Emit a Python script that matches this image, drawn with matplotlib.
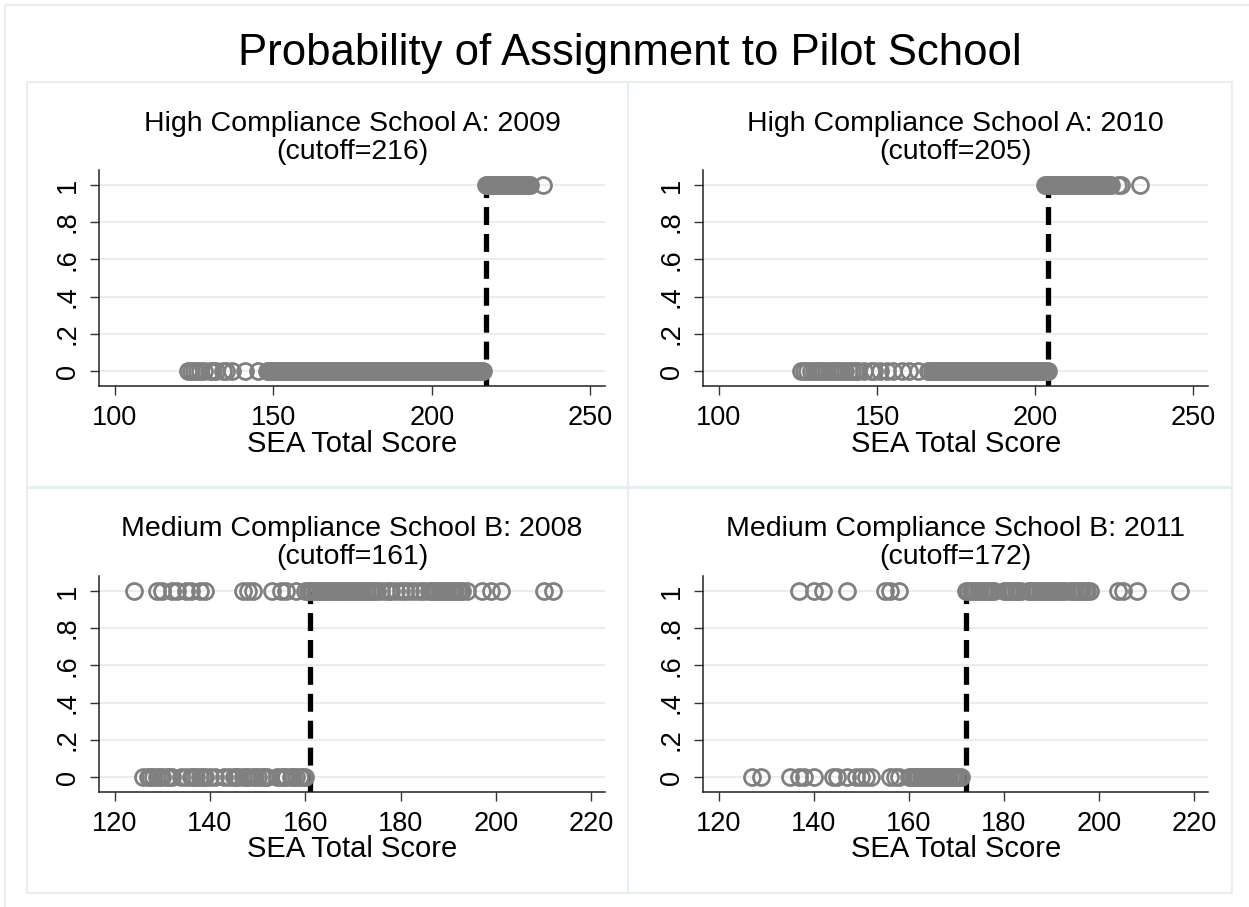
import matplotlib
matplotlib.use("Agg")
import matplotlib.pyplot as plt
from matplotlib.patches import Rectangle
from matplotlib.lines import Line2D

plt.rcParams['font.family'] = ['Liberation Sans', 'DejaVu Sans']

# --- data ---
titles = ["High Compliance School A: 2009", "High Compliance School A: 2010",
          "Medium Compliance School B: 2008", "Medium Compliance School B: 2011"]
cutoffs = [216, 205, 161, 172]
line_pos = [217, 204, 161, 172]   # where the dashed line is drawn

# scores of students not assigned (0) / assigned (1); the packed stretches
# need the half-point scores too
zeros_2009 = [123, 124, 125, 126, 127, 128, 130, 131, 132, 134, 135, 137, 141, 145,
              148, 149, 150, 151, 152, 153, 154, 155, 156, 157, 158, 159, 160, 161,
              162, 163, 164, 165, 166, 167, 168, 169, 170, 171, 172, 173, 174, 175,
              176, 177, 178, 179, 180, 181, 182, 183, 184, 185, 186, 187, 188, 189,
              190, 191, 192, 193, 194, 195, 196, 197, 198, 199, 200, 201, 202, 203,
              204, 205, 206, 207, 208, 209, 210, 211, 212, 213, 214, 215, 216,
              148.5, 149.5, 150.5, 151.5, 152.5, 153.5, 154.5, 155.5, 156.5, 157.5,
              158.5, 159.5, 160.5, 161.5, 162.5, 163.5, 164.5, 165.5, 166.5, 167.5,
              168.5, 169.5, 170.5, 171.5, 172.5, 173.5, 174.5, 175.5, 176.5, 177.5,
              178.5, 179.5, 180.5, 181.5, 182.5, 183.5, 184.5, 185.5, 186.5, 187.5,
              188.5, 189.5, 190.5, 191.5, 192.5, 193.5, 194.5, 195.5, 196.5, 197.5,
              198.5, 199.5, 200.5, 201.5, 202.5, 203.5, 204.5, 205.5, 206.5, 207.5,
              208.5, 209.5, 210.5, 211.5, 212.5, 213.5, 214.5, 215.5]
ones_2009 = [217, 218, 219, 220, 221, 222, 223, 224, 225, 226, 227, 228, 229, 230,
             231, 235, 217.5, 218.5, 219.5, 220.5, 221.5, 222.5, 223.5, 224.5,
             225.5, 226.5, 227.5, 228.5, 229.5, 230.5]

zeros_2010 = [126, 127, 128, 129, 130, 131, 132, 133, 134, 135, 136, 137, 138, 139,
              140, 141, 142, 143, 144, 146, 148, 149, 151, 153, 155, 158, 160, 163,
              166, 168, 169, 170, 171, 172, 173, 174, 175, 176, 177, 178, 179, 180,
              181, 182, 183, 184, 185, 186, 187, 188, 189, 190, 191, 192, 193, 194,
              195, 196, 197, 198, 199, 200, 201, 202, 203, 204,
              166.5, 167.5, 168.5, 169.5, 170.5, 171.5, 172.5, 173.5, 174.5, 175.5,
              176.5, 177.5, 178.5, 179.5, 180.5, 181.5, 182.5, 183.5, 184.5, 185.5,
              186.5, 187.5, 188.5, 189.5, 190.5, 191.5, 192.5, 193.5, 194.5, 195.5,
              196.5, 197.5, 198.5, 199.5, 200.5, 201.5, 202.5, 203.5]
ones_2010 = [203, 204, 205, 206, 207, 208, 209, 210, 211, 212, 213, 214, 215, 216,
             217, 218, 219, 220, 221, 222, 223, 224, 226, 227, 233,
             203.5, 204.5, 205.5, 206.5, 207.5, 208.5, 209.5, 210.5, 211.5, 212.5,
             213.5, 214.5, 215.5, 216.5, 217.5, 218.5, 219.5, 220.5, 221.5, 222.5,
             223.5]

zeros_2008 = [126, 127, 128, 129, 130, 131, 132, 134, 135, 136, 137, 138, 139, 140,
              141, 143, 144, 145, 146, 147, 148, 149, 150, 151, 152, 154, 155, 156,
              157, 158, 159, 160,
              127.5, 129.5, 131.5, 136.5, 138.5, 145.5, 147.5, 149.5, 151.5, 155.5,
              157.5, 159.5]
ones_2008 = [124, 129, 130, 132, 133, 135, 136, 138, 139, 147, 148, 149, 153, 155,
             156, 158, 160, 161, 162, 163, 164, 165, 166, 167, 168, 169, 170, 171,
             172, 173, 174, 175, 177, 178, 180, 182, 183, 185, 186, 187, 188, 189,
             190, 191, 192, 193, 194, 197, 199, 201, 210, 212,
             160.5, 161.5, 162.5, 163.5, 164.5, 165.5, 166.5, 167.5, 168.5, 169.5,
             170.5, 171.5, 172.5, 173.5, 174.5, 176, 177.5, 179, 181, 184,
             186.5, 187.5, 188.5, 189.5, 190.5, 191.5, 192.5]

zeros_2011 = [127, 129, 135, 137, 138, 140, 144, 145, 147, 149, 150, 151, 152, 156,
              157, 158, 160, 161, 162, 163, 164, 165, 166, 167, 168, 169, 170, 171,
              160.5, 161.5, 162.5, 163.5, 164.5, 165.5, 166.5, 167.5, 168.5, 169.5,
              170.5]
ones_2011 = [137, 140, 142, 147, 155, 156, 158, 172, 173, 174, 175, 176, 177, 178,
             180, 181, 182, 183, 185, 186, 187, 188, 189, 190, 191, 192, 193, 194,
             195, 196, 197, 198, 204, 205, 208, 217,
             172.5, 173.5, 174.5, 175.5, 176.5, 177.5, 180.5, 181.5, 182.5, 183.5,
             185.5, 186.5, 187.5, 188.5, 189.5, 190.5, 191.5, 192.5, 194.5, 195.5,
             196.5, 197.5]

zeros = [zeros_2009, zeros_2010, zeros_2008, zeros_2011]
ones = [ones_2009, ones_2010, ones_2008, ones_2011]

xticks_top = [100, 150, 200, 250]
xticks_bottom = [120, 140, 160, 180, 200, 220]
yticks = [0, 0.2, 0.4, 0.6, 0.8, 1]
ytick_labels = ['0', '.2', '.4', '.6', '.8', '1']

W, H = 1249, 907
def fx(x): return x / W
def fy(y): return 1 - y / H

BORDER = '#e6eef1'
GRAY = '#808080'

fig = plt.figure(figsize=(W / 100, H / 100), dpi=100)
fig.patch.set_facecolor('white')

# outer frame (only top and left visible in the crop)
fig.add_artist(Line2D([fx(5), 1], [fy(5), fy(5)], transform=fig.transFigure, color=BORDER, lw=1.5))
fig.add_artist(Line2D([fx(5), fx(5)], [fy(5), 0], transform=fig.transFigure, color=BORDER, lw=1.5))

fig.text(fx(630), fy(65), "Probability of Assignment to Pilot School",
         ha='center', va='baseline', fontsize=31.5)

# panel boxes in pixels: left, right, top
panels = [(27, 628, 82), (628, 1232, 82), (27, 628, 487), (628, 1232, 487)]
axes_px = [(99.3, 605, 170), (703.3, 1208, 170), (99.3, 605, 576), (703.3, 1208, 576)]
xlims = [(95.1, 254.6), (95.1, 254.6), (116.8, 222.9), (116.8, 222.9)]

for i in range(4):
    pl, pr, pt = panels[i]
    fig.add_artist(Rectangle((fx(pl), fy(pt + 406)), fx(pr - pl), 406 / H,
                             transform=fig.transFigure, fill=False, ec=BORDER, lw=1.5))

    al, ar, at = axes_px[i]
    ax = fig.add_axes([fx(al), fy(at + 216), fx(ar - al), 216 / H])
    ax.set_xlim(*xlims[i])
    ax.set_ylim(-0.08, 1.08)

    yb = ax.get_ylim()[0]
    ax.plot([line_pos[i], line_pos[i]], [yb, 1], color='black', lw=3.8,
            linestyle=(0, (3.4, 1.7)), zorder=2)
    ax.plot(zeros[i], [0] * len(zeros[i]), 'o', ms=11.5, mfc='none', mec=GRAY,
            mew=2.0, zorder=3, clip_on=False)
    ax.plot(ones[i], [1] * len(ones[i]), 'o', ms=11.5, mfc='none', mec=GRAY,
            mew=2.0, zorder=3, clip_on=False)

    ax.set_xticks(xticks_top if i < 2 else xticks_bottom)
    ax.set_yticks(yticks)
    ax.set_yticklabels(ytick_labels, rotation=90, va='center')
    ax.tick_params(axis='both', length=6.5, width=1, color='#333333',
                   labelsize=19.5, pad=7)
    ax.yaxis.grid(True, color=BORDER, lw=1.5)
    ax.set_axisbelow(True)
    for s in ['top', 'right']:
        ax.spines[s].set_visible(False)
    for s in ['left', 'bottom']:
        ax.spines[s].set_color('#222222')
        ax.spines[s].set_linewidth(1.1)

    cx = (al + ar) / 2
    fig.text(fx(cx), fy(pt + 49), titles[i], ha='center', va='baseline', fontsize=20.5)
    fig.text(fx(cx), fy(pt + 77), "(cutoff=%d)" % cutoffs[i], ha='center',
             va='baseline', fontsize=20.5)
    fig.text(fx(cx), fy(pt + 370), "SEA Total Score", ha='center', va='baseline',
             fontsize=21)

fig.savefig("out.png", dpi=100)
